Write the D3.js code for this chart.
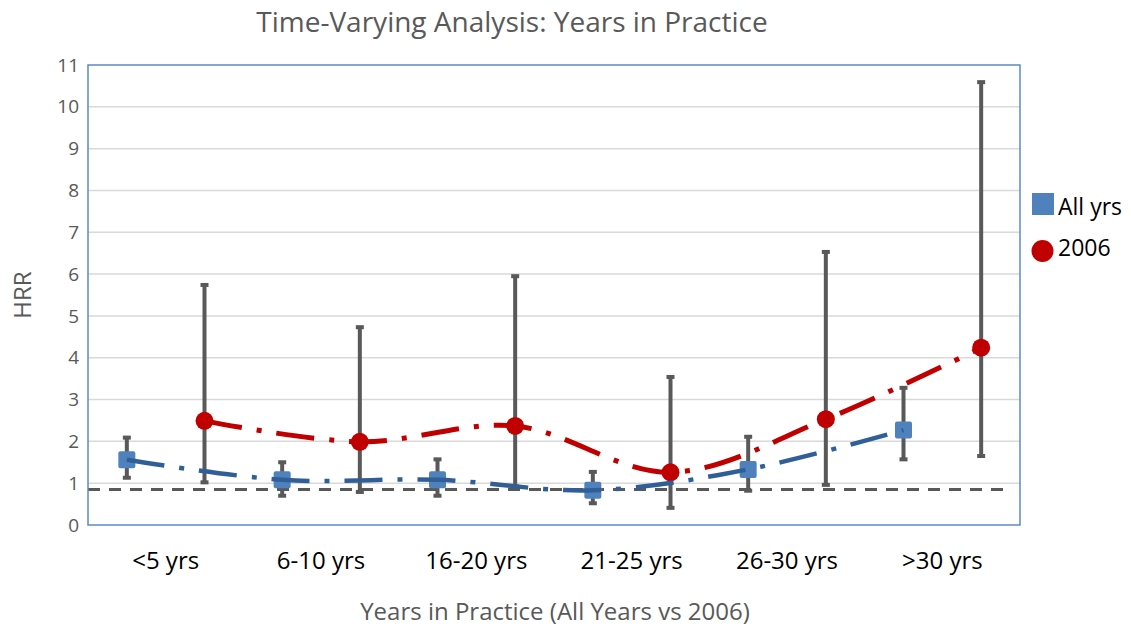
<!DOCTYPE html>
<html>
<head>
<meta charset="utf-8">
<script src="https://cdn.jsdelivr.net/npm/d3@7"></script>
<style>
  body { margin: 0; background: #fff; }
  svg { display: block; font-family: "Open Sans", "Liberation Sans", sans-serif; }
</style>
</head>
<body>
<div id="chart"></div>
<script>
// data
const categories = ["<5 yrs", "6-10 yrs", "16-20 yrs", "21-25 yrs", "26-30 yrs", ">30 yrs"];
const seriesNames = ["All yrs", "2006"];
const allYrs     = [1.56, 1.08, 1.08, 0.83, 1.33, 2.27];
const allYrsLow  = [1.13, 0.70, 0.70, 0.52, 0.82, 1.57];
const allYrsHigh = [2.09, 1.50, 1.57, 1.27, 2.11, 3.28];
const hrr2006     = [2.49, 1.99, 2.37, 1.26, 2.53, 4.24];
const hrr2006Low  = [1.02, 0.79, 0.92, 0.41, 0.96, 1.65];
const hrr2006High = [5.74, 4.73, 5.95, 3.54, 6.53, 10.59];
const refValue = 0.85;
const yTicks = d3.range(0, 12);

const W = 1131, H = 629;
const margin = {top: 65, right: 111, bottom: 104, left: 88},
    width = W - margin.left - margin.right,
    height = H - margin.top - margin.bottom;

const svg = d3.select("#chart").append("svg")
    .attr("width", W).attr("height", H);

const g = svg.append("g")
    .attr("transform", `translate(${margin.left}, ${margin.top})`);

const x = d3.scaleBand().domain(categories).range([0, width]);
const xs = d3.scalePoint().domain(seriesNames).range([0, x.bandwidth()]).padding(0.5);
const y = d3.scaleLinear().domain([0, 11]).range([height, 0]);

const colors = {"All yrs": "#4f81bd", "2006": "#c00000"};
const lineColors = {"All yrs": "#2f5f96", "2006": "#c00000"};

const series = [
  {name: "All yrs", values: allYrs, low: allYrsLow, high: allYrsHigh},
  {name: "2006", values: hrr2006, low: hrr2006Low, high: hrr2006High}
].map(s => ({
  name: s.name,
  points: categories.map((c, i) => ({
    cat: c, v: s.values[i], lo: s.low[i], hi: s.high[i],
    px: x(c) + xs(s.name)
  }))
}));

// gridlines
g.append("g")
  .selectAll("line")
  .data(yTicks.filter(t => t > 0 && t < 11))
  .join("line")
    .attr("x1", 0).attr("x2", width)
    .attr("y1", d => y(d)).attr("y2", d => y(d))
    .attr("stroke", "#d9d9d9")
    .attr("stroke-width", 1.5);

// y axis labels
const yAxis = g.append("g")
    .call(d3.axisLeft(y).tickValues(yTicks).tickSize(0).tickPadding(9));
yAxis.select(".domain").remove();
yAxis.selectAll("text")
    .attr("fill", "#595959")
    .style("font-size", "19px")
    .style("font-family", "'Open Sans', sans-serif");

// reference line
g.append("line")
    .attr("x1", 0).attr("x2", width - 15)
    .attr("y1", y(refValue)).attr("y2", y(refValue))
    .attr("stroke", "#595959")
    .attr("stroke-width", 3)
    .attr("stroke-dasharray", "12,9");

// error bars
const eb = g.append("g");
series.forEach(s => {
  const grp = eb.append("g");
  grp.selectAll("line.bar")
    .data(s.points)
    .join("line")
      .attr("class", "bar")
      .attr("x1", d => d.px).attr("x2", d => d.px)
      .attr("y1", d => y(d.lo)).attr("y2", d => y(d.hi))
      .attr("stroke", "#595959").attr("stroke-width", 4);
  grp.selectAll("rect.cap")
    .data(s.points.flatMap(d => [{px: d.px, v: d.lo}, {px: d.px, v: d.hi}]))
    .join("rect")
      .attr("class", "cap")
      .attr("x", d => d.px - 4).attr("y", d => y(d.v) - 2)
      .attr("width", 8).attr("height", 4)
      .attr("fill", "#595959");
});

// markers
const blue = series[0], red = series[1];
g.append("g").selectAll("rect")
  .data(blue.points)
  .join("rect")
    .attr("x", d => d.px - 8.5).attr("y", d => y(d.v) - 8.5)
    .attr("width", 17).attr("height", 17)
    .attr("rx", 2)
    .attr("fill", colors["All yrs"]);
g.append("g").selectAll("circle")
  .data(red.points)
  .join("circle")
    .attr("cx", d => d.px).attr("cy", d => y(d.v))
    .attr("r", 9)
    .attr("fill", colors["2006"]);

// smoothed dash-dot lines
const line = d3.line()
    .curve(d3.curveCatmullRom.alpha(0.5))
    .x(d => d.px)
    .y(d => y(d.v));
g.append("g").selectAll("path")
  .data(series)
  .join("path")
    .attr("d", d => line(d.points))
    .attr("fill", "none")
    .attr("stroke", d => lineColors[d.name])
    .attr("stroke-width", d => d.name === "2006" ? 5 : 4.5)
    .attr("stroke-dasharray", "38,15,5,15");

// plot border
g.append("rect")
    .attr("width", width).attr("height", height)
    .attr("fill", "none")
    .attr("stroke", "#5b8bc6")
    .attr("stroke-width", 1.5);

// category labels
g.append("g").selectAll("text")
  .data(categories)
  .join("text")
    .attr("x", d => x(d) + x.bandwidth() / 2)
    .attr("y", height + 44)
    .attr("text-anchor", "middle")
    .attr("fill", "#000")
    .style("font-size", "24px")
    .text(d => d);

// titles
svg.append("text")
    .attr("x", 512).attr("y", 32)
    .attr("text-anchor", "middle")
    .attr("fill", "#595959")
    .style("font-size", "28px")
    .text("Time-Varying Analysis: Years in Practice");

svg.append("text")
    .attr("x", margin.left + width / 2 + 1).attr("y", H - 9)
    .attr("text-anchor", "middle")
    .attr("fill", "#595959")
    .style("font-size", "24px")
    .text("Years in Practice (All Years vs 2006)");

svg.append("text")
    .attr("transform", `translate(31, 295) rotate(-90)`)
    .attr("text-anchor", "middle")
    .attr("fill", "#595959")
    .style("font-size", "24px")
    .text("HRR");

// legend
const legend = svg.append("g").attr("transform", "translate(1032, 193)");
const li = legend.selectAll("g")
  .data(seriesNames)
  .join("g")
    .attr("transform", (d, i) => `translate(0, ${i * 47})`);
li.filter(d => d === "All yrs").append("rect")
    .attr("width", 22).attr("height", 22)
    .attr("fill", colors["All yrs"]);
li.filter(d => d === "2006").append("circle")
    .attr("cx", 10.5).attr("cy", 11).attr("r", 11)
    .attr("fill", colors["2006"]);
li.append("text")
    .attr("x", 26).attr("y", (d, i) => 22 + i * -6)
    .attr("fill", "#000")
    .style("font-size", "23px")
    .text(d => d);
</script>
</body>
</html>
